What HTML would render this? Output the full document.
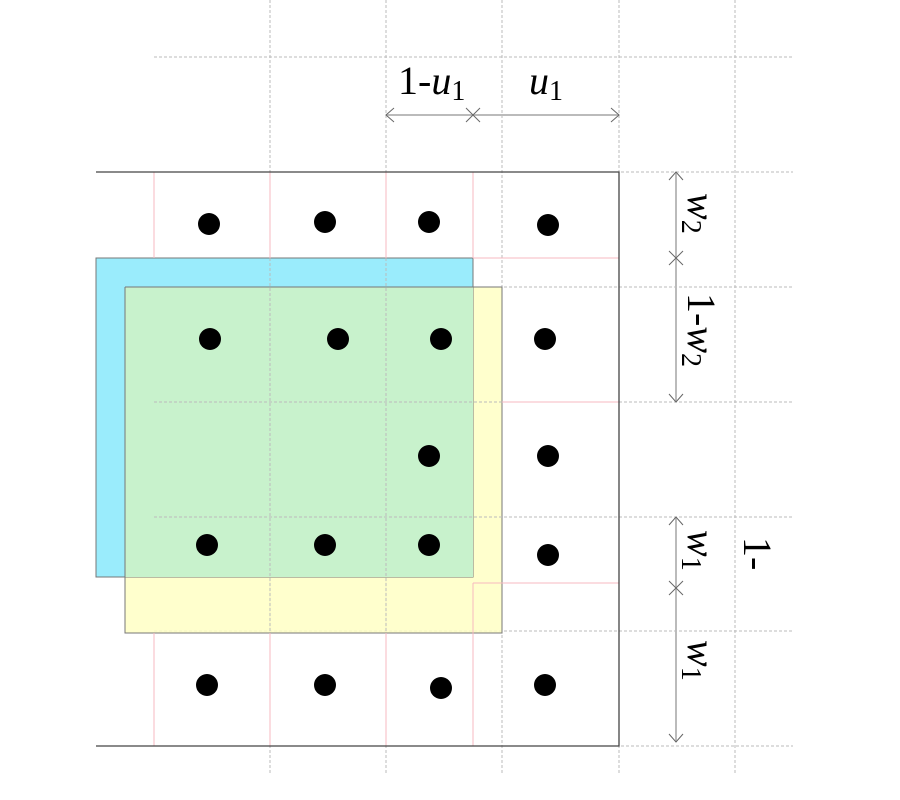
<!DOCTYPE html>
<html><head><style>body{margin:0;background:#fff}svg{display:block}text{font-family:"Liberation Serif",serif}</style></head>
<body>
<svg width="900" height="800" viewBox="0 0 900 800" xmlns="http://www.w3.org/2000/svg">
<g stroke="#bbb" stroke-width="1" stroke-dasharray="3,2" fill="none">
<line x1="154" y1="57" x2="793" y2="57"/>
<line x1="96" y1="172" x2="793" y2="172"/>
<line x1="154" y1="287" x2="793" y2="287"/>
<line x1="154" y1="402" x2="793" y2="402"/>
<line x1="154" y1="517" x2="793" y2="517"/>
<line x1="154" y1="631" x2="793" y2="631"/>
<line x1="96" y1="746" x2="793" y2="746"/>
<line x1="270" y1="0" x2="270" y2="775"/>
<line x1="386" y1="0" x2="386" y2="775"/>
<line x1="502" y1="0" x2="502" y2="775"/>
<line x1="619" y1="0" x2="619" y2="775"/>
<line x1="735" y1="0" x2="735" y2="775"/>
</g>
<rect x="125" y="287" width="377" height="346" fill="#ffffc4" fill-opacity="0.85" stroke="#777"/>
<rect x="96" y="258" width="377" height="319" fill="#9aecfc" stroke="#777"/>
<rect x="125" y="287" width="348" height="290" fill="#c8f2cc" stroke="none"/>
<line x1="125" y1="287" x2="473" y2="287" stroke="#777"/>
<line x1="125" y1="287" x2="125" y2="577" stroke="#777"/>
<g stroke="#bbb" stroke-width="1" stroke-dasharray="3,2">
<line x1="154" y1="402" x2="502" y2="402"/><line x1="154" y1="517" x2="502" y2="517"/>
<line x1="270" y1="258" x2="270" y2="633"/><line x1="386" y1="258" x2="386" y2="633"/>
</g>
<g stroke="#f7b8c0" stroke-width="1">
<line x1="154" y1="172" x2="154" y2="258"/><line x1="270" y1="172" x2="270" y2="258"/>
<line x1="386" y1="172" x2="386" y2="258"/><line x1="473" y1="172" x2="473" y2="258"/>
<line x1="473" y1="258" x2="619" y2="258"/>
<line x1="154" y1="633" x2="154" y2="746"/><line x1="270" y1="633" x2="270" y2="746"/>
<line x1="386" y1="633" x2="386" y2="746"/><line x1="473" y1="583" x2="473" y2="746"/>
<line x1="473" y1="583" x2="619" y2="583"/>
<line x1="502" y1="402" x2="619" y2="402"/>
</g>
<g stroke="#444" stroke-width="1.3" fill="none">
<polyline points="96,172 619,172 619,746 96,746"/>
</g>
<g fill="#000">
<circle cx="209" cy="224" r="11"/><circle cx="325" cy="222" r="11"/><circle cx="429" cy="222" r="11"/><circle cx="548" cy="225" r="11"/>
<circle cx="210" cy="339" r="11"/><circle cx="338" cy="339" r="11"/><circle cx="441" cy="339" r="11"/><circle cx="545" cy="339" r="11"/>
<circle cx="429" cy="456" r="11"/><circle cx="548" cy="456" r="11"/>
<circle cx="207" cy="545" r="11"/><circle cx="325" cy="545" r="11"/><circle cx="429" cy="545" r="11"/><circle cx="548" cy="555" r="11"/>
<circle cx="207" cy="685" r="11"/><circle cx="325" cy="685" r="11"/><circle cx="441" cy="688" r="11"/><circle cx="545" cy="685" r="11"/>
</g>
<g stroke="#bbb" stroke-width="2"><line x1="386" y1="115" x2="619" y2="115"/><line x1="676" y1="172" x2="676" y2="402"/><line x1="676" y1="517" x2="676" y2="742"/></g>
<g stroke="#666" stroke-width="1" fill="none">
<polyline points="394,108 386,115 394,122"/><polyline points="611,108 619,115 611,122"/>
<line x1="466" y1="108" x2="480" y2="122"/><line x1="466" y1="122" x2="480" y2="108"/>
<polyline points="669,180 676,172 683,180"/><polyline points="669,394 676,402 683,394"/>
<line x1="669" y1="251" x2="683" y2="265"/><line x1="669" y1="265" x2="683" y2="251"/>
<polyline points="669,525 676,517 683,525"/><polyline points="669,734 676,742 683,734"/>
<line x1="669" y1="581" x2="683" y2="595"/><line x1="669" y1="595" x2="683" y2="581"/>
</g>
<g font-size="40" fill="#000">
<text x="398" y="94">1-<tspan font-style="italic">u</tspan><tspan font-size="28" dy="6">1</tspan></text>
<text x="529" y="94"><tspan font-style="italic">u</tspan><tspan font-size="28" dy="6">1</tspan></text>
</g>
<g font-size="40" fill="#000">
<rect x="684" y="192" width="50" height="48" fill="#fff"/>
<text transform="translate(688,193) rotate(90)"><tspan font-style="italic">w</tspan><tspan font-size="28" dy="6">2</tspan></text>
<rect x="684" y="292" width="50" height="80" fill="#fff"/>
<text transform="translate(688,293) rotate(90)">1-<tspan font-style="italic">w</tspan><tspan font-size="28" dy="6">2</tspan></text>
<rect x="684" y="530" width="50" height="40" fill="#fff"/>
<text transform="translate(688,530) rotate(90)"><tspan font-style="italic">w</tspan><tspan font-size="28" dy="6">1</tspan></text>
<rect x="738" y="536" width="38" height="50" fill="#fff"/>
<text transform="translate(744,537) rotate(90)">1-</text>
<text transform="translate(688,640) rotate(90)"><tspan font-style="italic">w</tspan><tspan font-size="28" dy="6">1</tspan></text>
</g>
</svg>
</body></html>
